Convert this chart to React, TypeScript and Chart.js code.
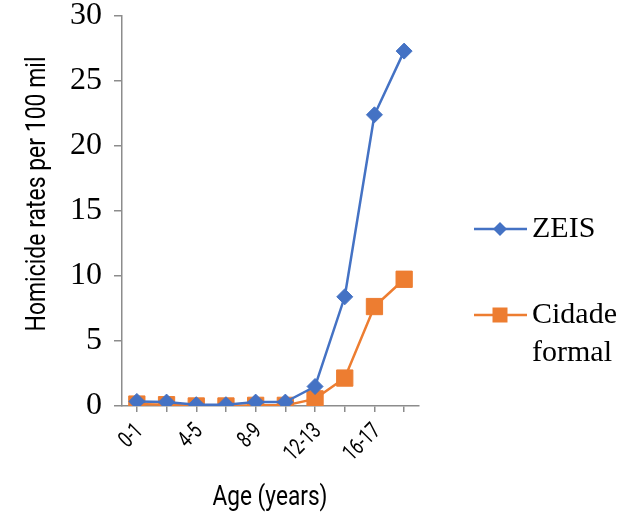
import React, { useEffect, useRef } from "react";
import { Chart, registerables } from "chart.js";

Chart.register(...registerables);

const categories = ["0-1", "2-3", "4-5", "6-7", "8-9", "10-11", "12-13", "14-15", "16-17", "18-19"];
const zeisValues = [0.35, 0.3, 0.1, 0.1, 0.3, 0.3, 1.5, 8.4, 22.4, 27.3];
const cidadeValues = [0.15, 0.1, 0.0, 0.0, 0.05, 0.05, 0.55, 2.15, 7.65, 9.75];
const yTicks = [0, 5, 10, 15, 20, 25, 30];
const seriesNames = ["ZEIS", "Cidade formal"];
const xTitle = "Age (years)";
const yTitle = "Homicide rates per 100 mil";

const BLUE = "#4472C4";
const ORANGE = "#ED7D31";
const NARROW = "Roboto, 'DejaVu Sans', sans-serif";
const SERIF = "'Liberation Serif', 'Times New Roman', serif";

// draws horizontally compressed text (condensed look), fitted to a target width
function narrowText(
  ctx: CanvasRenderingContext2D,
  text: string,
  x: number,
  y: number,
  size: number,
  targetWidth: number,
  rotation: number,
  align: "left" | "right" | "center"
) {
  ctx.save();
  ctx.font = `${size}px ${NARROW}`;
  const w = ctx.measureText(text).width;
  const sx = targetWidth / w;
  ctx.translate(x, y);
  ctx.rotate(rotation);
  ctx.scale(sx, 1);
  ctx.textAlign = align;
  ctx.textBaseline = "middle";
  ctx.fillStyle = "#000";
  ctx.fillText(text, 0, 0);
  ctx.restore();
}

const TICK_SIZE = 23;

const textPlugin = {
  id: "textPlugin",
  afterDraw(chart: any) {
    const ctx: CanvasRenderingContext2D = chart.ctx;
    const xs = chart.scales.x;
    // x tick labels (every other category)
    ctx.save();
    ctx.font = `${TICK_SIZE}px ${NARROW}`;
    const ref = ctx.measureText("12-13").width;
    ctx.restore();
    const tickScale = 42 / ref;
    categories.forEach((c, i) => {
      if (i % 2 !== 0) return;
      const px = xs.getPixelForTick(i);
      ctx.save();
      ctx.font = `${TICK_SIZE}px ${NARROW}`;
      const w = ctx.measureText(c).width * tickScale;
      ctx.restore();
      narrowText(ctx, c, px + 3, 428, TICK_SIZE, w, -Math.PI / 4, "right");
    });
    narrowText(ctx, xTitle, 270, 498, 28, 115, 0, "center");
    narrowText(ctx, yTitle, 38, 194, 28, 275, -Math.PI / 2, "center");

    // legend
    ctx.save();
    const drawEntry = (y: number, color: string, shape: string, lines: string[]) => {
      ctx.strokeStyle = color;
      ctx.fillStyle = color;
      ctx.lineWidth = 2.5;
      ctx.beginPath();
      ctx.moveTo(474, y);
      ctx.lineTo(527, y);
      ctx.stroke();
      ctx.beginPath();
      if (shape === "diamond") {
        const r = 7;
        ctx.moveTo(500 - r, y);
        ctx.lineTo(500, y - r);
        ctx.lineTo(500 + r, y);
        ctx.lineTo(500, y + r);
        ctx.closePath();
      } else {
        const s = 7.5;
        ctx.rect(500 - s, y - s, 2 * s, 2 * s);
      }
      ctx.fill();
      ctx.fillStyle = "#000";
      ctx.font = `30px ${SERIF}`;
      ctx.textBaseline = "middle";
      ctx.textAlign = "left";
      lines.forEach((t, i) => ctx.fillText(t, 532, y + i * 38));
    };
    drawEntry(229, BLUE, "diamond", [seriesNames[0]]);
    drawEntry(315, ORANGE, "square", seriesNames[1].split(" "));
    ctx.restore();
  },
};

export default function App() {
  const canvasRef = useRef<HTMLCanvasElement>(null);

  useEffect(() => {
    document.body.style.margin = "0";
    const chart = new Chart(canvasRef.current!, {
      type: "line",
      data: {
        labels: categories,
        datasets: [
          {
            label: seriesNames[0],
            data: zeisValues,
            borderColor: BLUE,
            backgroundColor: BLUE,
            borderWidth: 2.5,
            pointStyle: "rectRot",
            pointRadius: 8,
            pointBorderWidth: 1,
            tension: 0,
          },
          {
            label: seriesNames[1],
            data: cidadeValues,
            borderColor: ORANGE,
            backgroundColor: ORANGE,
            borderWidth: 2.5,
            pointStyle: "rect",
            pointRadius: 11.5,
            pointBorderWidth: 1,
            tension: 0,
          },
        ],
      },
      options: {
        animation: false,
        responsive: true,
        maintainAspectRatio: false,
        layout: { padding: { top: 16, right: 209, left: 0, bottom: 0 } },
        plugins: { legend: { display: false }, tooltip: { enabled: false } },
        scales: {
          x: {
            offset: true,
            grid: {
              offset: false,
              drawOnChartArea: false,
              tickLength: 6,
              color: "#8c8c8c",
              lineWidth: 1.5,
            },
            border: { color: "#8c8c8c", width: 1.5 },
            ticks: { display: false },
            afterFit: (scale: any) => {
              scale.height = 116;
              scale.paddingLeft = 0;
              scale.paddingRight = 0;
            },
          },
          y: {
            min: 0,
            max: 30,
            afterBuildTicks: (scale: any) => {
              scale.ticks = yTicks.map((v) => ({ value: v }));
            },
            grid: {
              drawOnChartArea: false,
              tickLength: 8,
              color: "#8c8c8c",
              lineWidth: 1.5,
            },
            border: { color: "#8c8c8c", width: 1.5 },
            ticks: {
              padding: 12,
              color: "#000",
              font: { family: SERIF, size: 32 },
            },
            afterFit: (scale: any) => {
              scale.width = 122;
              scale.paddingTop = 0;
              scale.paddingBottom = 0;
            },
          },
        },
      },
      plugins: [textPlugin],
    });
    return () => chart.destroy();
  }, []);

  return (
    <div style={{ position: "fixed", left: 0, top: 0, width: 628, height: 522, background: "#fff" }}>
      <canvas ref={canvasRef} />
    </div>
  );
}
